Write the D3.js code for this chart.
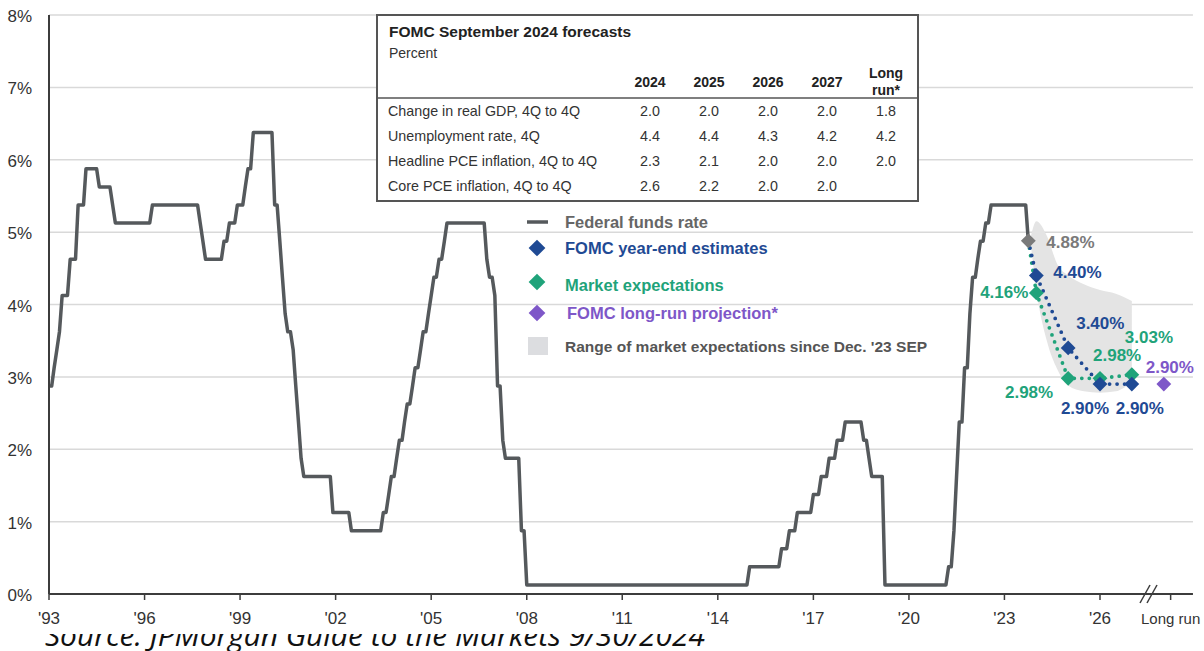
<!DOCTYPE html>
<html>
<head>
<meta charset="utf-8">
<script src="https://cdn.jsdelivr.net/npm/d3@7"></script>
<style>
  body { margin: 0; background: #fff; }
  svg { display: block; }
  text { font-family: "Liberation Sans", Arial, sans-serif; }
</style>
</head>
<body>
<svg id="chart"></svg>
<script>
// Fed funds rate (midpoint of target), month-end value after each change: [year, month, %]
var fedFunds = [
  [1993, 12, 2.875], [1994, 2, 3.125], [1994, 3, 3.375], [1994, 4, 3.625], [1994, 5, 4.125], [1994, 8, 4.625], [1994, 11, 5.375],
  [1995, 2, 5.875], [1995, 7, 5.625], [1995, 12, 5.375], [1996, 1, 5.125], [1997, 3, 5.375],
  [1998, 9, 5.125], [1998, 10, 4.875], [1998, 11, 4.625], [1999, 6, 4.875], [1999, 8, 5.125], [1999, 11, 5.375],
  [2000, 2, 5.625], [2000, 3, 5.875], [2000, 5, 6.375],
  [2001, 1, 5.375], [2001, 3, 4.875], [2001, 4, 4.375], [2001, 5, 3.875], [2001, 6, 3.625], [2001, 8, 3.375],
  [2001, 9, 2.875], [2001, 10, 2.375], [2001, 11, 1.875], [2001, 12, 1.625],
  [2002, 11, 1.125], [2003, 6, 0.875],
  [2004, 6, 1.125], [2004, 8, 1.375], [2004, 9, 1.625], [2004, 11, 1.875], [2004, 12, 2.125],
  [2005, 2, 2.375], [2005, 3, 2.625], [2005, 5, 2.875], [2005, 6, 3.125], [2005, 8, 3.375], [2005, 9, 3.625],
  [2005, 11, 3.875], [2005, 12, 4.125],
  [2006, 1, 4.375], [2006, 3, 4.625], [2006, 5, 4.875], [2006, 6, 5.125],
  [2007, 9, 4.625], [2007, 10, 4.375], [2007, 12, 4.125],
  [2008, 1, 2.875], [2008, 3, 2.125], [2008, 4, 1.875], [2008, 10, 0.875], [2008, 12, 0.125],
  [2015, 12, 0.375], [2016, 12, 0.625], [2017, 3, 0.875], [2017, 6, 1.125], [2017, 12, 1.375],
  [2018, 3, 1.625], [2018, 6, 1.875], [2018, 9, 2.125], [2018, 12, 2.375],
  [2019, 7, 2.125], [2019, 9, 1.875], [2019, 10, 1.625], [2020, 3, 0.125],
  [2022, 3, 0.375], [2022, 5, 0.875], [2022, 6, 1.625], [2022, 7, 2.375], [2022, 9, 3.125], [2022, 11, 3.875], [2022, 12, 4.375],
  [2023, 2, 4.625], [2023, 3, 4.875], [2023, 5, 5.125], [2023, 7, 5.375], [2024, 9, 4.875]
];

var currentRate = 4.88;
var forecastYears = [2024, 2025, 2026, 2027];
var fomcYearEnd = [4.40, 3.40, 2.90, 2.90];
var marketExp = [4.16, 2.98, 2.98, 3.03];
var fomcLongRun = 2.90;

// range of market expectations since Dec '23 SEP: [year, month, high, low]
var marketRange = [
  [2024, 10, 4.95, 4.80], [2024, 12, 5.15, 4.20], [2025, 4, 4.95, 3.50], [2025, 8, 4.55, 3.10],
  [2025, 12, 4.40, 2.88], [2026, 6, 4.28, 2.80], [2026, 12, 4.20, 2.78], [2027, 6, 4.15, 2.80], [2027, 12, 4.05, 2.93]
];

var yTicks = [0, 1, 2, 3, 4, 5, 6, 7, 8];
var xTickYears = [1993, 1996, 1999, 2002, 2005, 2008, 2011, 2014, 2017, 2020, 2023, 2026];

var tableTitle = 'FOMC September 2024 forecasts';
var tableUnit = 'Percent';
var tableCols = ['2024', '2025', '2026', '2027', 'Long run*'];
var tableRows = ['Change in real GDP, 4Q to 4Q', 'Unemployment rate, 4Q', 'Headline PCE inflation, 4Q to 4Q', 'Core PCE inflation, 4Q to 4Q'];
var tableValues = [
  [2.0, 2.0, 2.0, 2.0, 1.8],
  [4.4, 4.4, 4.3, 4.2, 4.2],
  [2.3, 2.1, 2.0, 2.0, 2.0],
  [2.6, 2.2, 2.0, 2.0, null]
];

var legendLabels = ['Federal funds rate', 'FOMC year-end estimates', 'Market expectations', 'FOMC long-run projection*', "Range of market expectations since Dec. '23 SEP"];
var sourceText = 'Source: JPMorgan Guide to the Markets 9/30/2024';

var colors = {
  ff: '#55595c', navy: '#1f4a94', green: '#1fa37a', purple: '#7e57c8',
  current: '#7a7a7a', band: '#e4e4e4', grid: '#d9d9d9', axis: '#3c3c3c', text: '#333'
};

var width = 1204, height = 651;
var svg = d3.select('#chart').attr('width', width).attr('height', height);

function monthEnd(y, m) { return new Date(y, m, 0); }

var x = d3.scaleTime()
  .domain([monthEnd(1993, 12), monthEnd(2026, 12)])
  .range([49, 1100]);
var y = d3.scaleLinear().domain([0, 8]).range([594, 15]);

var longRunDate = new Date(2029, 0, 1);
var longRunTick = new Date(2029, 2, 20);
var breakDate = new Date(2028, 6, 15);
var axisEnd = x(new Date(2029, 11, 1));

// gridlines
svg.append('g').selectAll('line')
  .data(yTicks.filter(function(d) { return d > 0; }))
  .enter().append('line')
  .attr('x1', x.range()[0]).attr('x2', axisEnd)
  .attr('y1', function(d) { return y(d); }).attr('y2', function(d) { return y(d); })
  .attr('stroke', colors.grid).attr('stroke-width', 1.5);

// y labels
svg.append('g').selectAll('text')
  .data(yTicks)
  .enter().append('text')
  .attr('x', 32).attr('y', function(d) { return y(d) + 7; })
  .attr('text-anchor', 'end')
  .attr('font-size', 17).attr('fill', colors.text)
  .text(function(d) { return d + '%'; });

// market expectations band
var bandData = marketRange.map(function(d) { return { date: monthEnd(d[0], d[1]), hi: d[2], lo: d[3] }; });
svg.append('path')
  .datum(bandData)
  .attr('fill', colors.band)
  .attr('d', d3.area()
    .x(function(d) { return x(d.date); })
    .y0(function(d) { return y(d.lo); })
    .y1(function(d) { return y(d.hi); })
    .curve(d3.curveMonotoneX));

// fed funds rate line (step changes, one month to move)
var ffPoints = [];
fedFunds.forEach(function(d, i) {
  ffPoints.push({ date: monthEnd(d[0], d[1]), value: d[2] });
  var next = fedFunds[i + 1];
  if (next) ffPoints.push({ date: monthEnd(next[0], next[1] - 1), value: d[2] });
});
svg.append('path')
  .datum(ffPoints)
  .attr('fill', 'none')
  .attr('stroke', colors.ff)
  .attr('stroke-width', 3.5)
  .attr('stroke-linejoin', 'round')
  .attr('d', d3.line()
    .x(function(d) { return x(d.date); })
    .y(function(d) { return y(d.value); }));

// axes
svg.append('line')
  .attr('x1', x.range()[0]).attr('x2', x.range()[0])
  .attr('y1', y(8)).attr('y2', y(0))
  .attr('stroke', colors.axis).attr('stroke-width', 2);
svg.append('line')
  .attr('x1', x.range()[0]).attr('x2', axisEnd)
  .attr('y1', y(0)).attr('y2', y(0))
  .attr('stroke', colors.axis).attr('stroke-width', 2);

var xTicks = xTickYears.map(function(yr) { return { date: monthEnd(yr, 12), label: "'" + String(yr).slice(2) }; });
xTicks.push({ date: longRunTick, label: 'Long run' });
var xt = svg.append('g').selectAll('g')
  .data(xTicks)
  .enter().append('g')
  .attr('transform', function(d) { return 'translate(' + x(d.date) + ',' + y(0) + ')'; });
xt.append('line').attr('y1', 0).attr('y2', 6).attr('stroke', colors.axis).attr('stroke-width', 1.5);
xt.append('text')
  .attr('y', 30).attr('text-anchor', 'middle')
  .attr('font-size', function(d) { return d.label === 'Long run' ? 15 : 17; })
  .attr('fill', colors.text)
  .text(function(d) { return d.label; });

// axis break marks
var bx = x(breakDate);
[-4, 3].forEach(function(off) {
  svg.append('line')
    .attr('x1', bx + off - 5).attr('y1', y(0) + 9)
    .attr('x2', bx + off + 5).attr('y2', y(0) - 9)
    .attr('stroke', colors.axis).attr('stroke-width', 1.5);
});

// forecast lines
var startPt = { date: ffPoints[ffPoints.length - 1].date, value: currentRate };
var navyPts = [startPt].concat(forecastYears.map(function(yr, i) { return { date: monthEnd(yr, 12), value: fomcYearEnd[i] }; }));
var greenPts = [startPt].concat(forecastYears.map(function(yr, i) { return { date: monthEnd(yr, 12), value: marketExp[i] }; }));
var line = d3.line().x(function(d) { return x(d.date); }).y(function(d) { return y(d.value); });

[[greenPts, colors.green], [navyPts, colors.navy]].forEach(function(s) {
  svg.append('path')
    .datum(s[0])
    .attr('fill', 'none')
    .attr('stroke', s[1])
    .attr('stroke-width', 3.8)
    .attr('stroke-linecap', 'round')
    .attr('stroke-dasharray', '0 7.5')
    .attr('d', line);
});

function drawDiamond(cx, cy, color, size) {
  svg.append('path')
    .attr('d', d3.symbol().type(d3.symbolSquare).size(size || 110)())
    .attr('transform', 'translate(' + cx + ',' + cy + ') rotate(45)')
    .attr('fill', color);
}

greenPts.slice(1).forEach(function(d) { drawDiamond(x(d.date), y(d.value), colors.green); });
navyPts.slice(1).forEach(function(d) { drawDiamond(x(d.date), y(d.value), colors.navy); });
drawDiamond(x(startPt.date), y(startPt.value), colors.current);
drawDiamond(x(longRunDate), y(fomcLongRun), colors.purple);

// point labels
var fmt = function(v) { return d3.format('.2f')(v) + '%'; };
var pointLabels = [
  { date: startPt.date, value: currentRate, color: colors.current, dx: 18, dy: 1, anchor: 'start' },
  { date: navyPts[1].date, value: fomcYearEnd[0], color: colors.navy, dx: 17, dy: -4, anchor: 'start' },
  { date: greenPts[1].date, value: marketExp[0], color: colors.green, dx: -8, dy: -1, anchor: 'end' },
  { date: navyPts[2].date, value: fomcYearEnd[1], color: colors.navy, dx: 8, dy: -25, anchor: 'start' },
  { date: greenPts[2].date, value: marketExp[1], color: colors.green, dx: -15, dy: 14, anchor: 'end' },
  { date: navyPts[3].date, value: fomcYearEnd[2], color: colors.navy, dx: -15, dy: 24, anchor: 'middle' },
  { date: greenPts[3].date, value: marketExp[2], color: colors.green, dx: -7, dy: -23, anchor: 'start' },
  { date: navyPts[4].date, value: fomcYearEnd[3], color: colors.navy, dx: 8, dy: 24, anchor: 'middle' },
  { date: greenPts[4].date, value: marketExp[3], color: colors.green, dx: -7, dy: -38, anchor: 'start' },
  { date: longRunDate, value: fomcLongRun, color: colors.purple, dx: 6, dy: -17, anchor: 'middle' }
];
svg.append('g').selectAll('text')
  .data(pointLabels)
  .enter().append('text')
  .attr('x', function(d) { return x(d.date) + d.dx; })
  .attr('y', function(d) { return y(d.value) + d.dy + 6; })
  .attr('text-anchor', function(d) { return d.anchor; })
  .attr('font-size', 17).attr('font-weight', 'bold')
  .attr('fill', function(d) { return d.color; })
  .text(function(d) { return fmt(d.value); });

// forecast table
var tb = svg.append('g');
tb.append('rect')
  .attr('x', 377).attr('y', 15).attr('width', 541).attr('height', 186)
  .attr('fill', '#fff').attr('stroke', '#555').attr('stroke-width', 2);
tb.append('line').attr('x1', 377).attr('x2', 918).attr('y1', 98).attr('y2', 98)
  .attr('stroke', '#555').attr('stroke-width', 1.5);
tb.append('text').attr('x', 389).attr('y', 37)
  .attr('font-size', 15.5).attr('font-weight', 'bold').attr('fill', '#222').text(tableTitle);
tb.append('text').attr('x', 389).attr('y', 58)
  .attr('font-size', 14).attr('fill', '#333').text(tableUnit);

var colX = d3.scalePoint().domain(tableCols).range([650, 886]);
tableCols.forEach(function(c) {
  var parts = c === 'Long run*' ? ['Long', 'run*'] : [c];
  parts.forEach(function(p, i) {
    tb.append('text')
      .attr('x', colX(c)).attr('y', parts.length > 1 ? 78 + i * 17 : 87)
      .attr('text-anchor', 'middle')
      .attr('font-size', 14).attr('font-weight', 'bold').attr('fill', '#222')
      .text(p);
  });
});
var rowY = d3.scalePoint().domain(tableRows).range([116, 191]);
tableRows.forEach(function(r, i) {
  tb.append('text').attr('x', 388).attr('y', rowY(r))
    .attr('font-size', 14.3).attr('fill', '#333').text(r);
  tableValues[i].forEach(function(v, j) {
    if (v === null) return;
    tb.append('text').attr('x', colX(tableCols[j])).attr('y', rowY(r))
      .attr('text-anchor', 'middle')
      .attr('font-size', 14.3).attr('fill', '#333').text(d3.format('.1f')(v));
  });
});

// legend
var lg = svg.append('g');
var legendY = [222, 248, 285, 313, 346];
var legendColors = ['#666', colors.navy, colors.green, colors.purple, '#555'];
lg.append('line').attr('x1', 527).attr('x2', 548).attr('y1', legendY[0]).attr('y2', legendY[0])
  .attr('stroke', colors.ff).attr('stroke-width', 3.5);
[1, 2, 3].forEach(function(i) {
  lg.append('path')
    .attr('d', d3.symbol().type(d3.symbolSquare).size(140)())
    .attr('transform', 'translate(537,' + (legendY[i] - (i === 2 ? 3 : 0)) + ') rotate(45)')
    .attr('fill', legendColors[i]);
});
lg.append('rect').attr('x', 528).attr('y', 337).attr('width', 20).attr('height', 18).attr('fill', '#dcdde0');
legendLabels.forEach(function(l, i) {
  lg.append('text')
    .attr('x', i === 3 ? 567 : 565).attr('y', legendY[i] + 6)
    .attr('font-size', i === 4 ? 15.5 : 16.5).attr('font-weight', 'bold')
    .attr('fill', legendColors[i])
    .text(l);
});

// source line, top of it hidden behind the chart image like the original
svg.append('clipPath').attr('id', 'srcClip')
  .append('rect').attr('x', 0).attr('y', 634).attr('width', width).attr('height', 20);
svg.append('text')
  .attr('clip-path', 'url(#srcClip)')
  .attr('x', 45).attr('y', 646)
  .style('font-family', '"Open Sans", sans-serif')
  .attr('font-style', 'italic')
  .attr('font-size', 29)
  .attr('textLength', 660).attr('lengthAdjust', 'spacingAndGlyphs')
  .attr('fill', '#111')
  .text(sourceText);
</script>
</body>
</html>
